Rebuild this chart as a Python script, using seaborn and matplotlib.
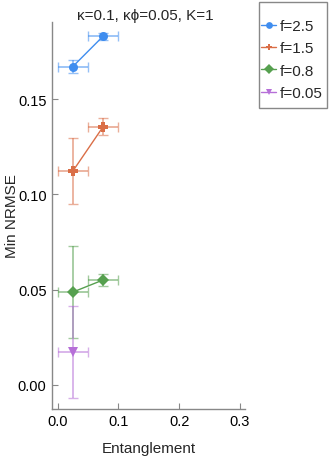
import numpy as np
import pandas as pd
import seaborn as sns
import matplotlib.pyplot as plt
from matplotlib.patches import Rectangle

# data
series = ["f=2.5", "f=1.5", "f=0.8", "f=0.05"]
ent_25 = [0.025, 0.075]
nrmse_25 = [0.1671, 0.1831]
yerr_25 = [0.0033, 0.0018]
ent_15 = [0.025, 0.075]
nrmse_15 = [0.1122, 0.1356]
yerr_15 = [0.0175, 0.0044]
ent_08 = [0.025, 0.075]
nrmse_08 = [0.0487, 0.0551]
yerr_08 = [0.0240, 0.0031]
ent_005 = [0.025]
nrmse_005 = [0.0173]
yerr_005 = [0.0240]
xerr = 0.025

colors = ["#3F8DEF", "#DA6E47", "#56A04F", "#B66FD8"]
markers = ["o", "P", "D", "v"]

df = pd.concat([
    pd.DataFrame({"Entanglement": e, "Min NRMSE": v, "err": er, "f": s})
    for e, v, er, s in zip([ent_25, ent_15, ent_08, ent_005],
                           [nrmse_25, nrmse_15, nrmse_08, nrmse_005],
                           [yerr_25, yerr_15, yerr_08, yerr_005], series)
], ignore_index=True)

sns.set_theme(style="ticks")
plt.rcParams["font.family"] = ["Liberation Sans", "DejaVu Sans"]

fig = plt.figure(figsize=(3.3, 4.6), dpi=100)
ax = fig.add_axes([0.158, 0.109, 0.584, 0.841])

palette = dict(zip(series, colors))
mk = dict(zip(series, markers))

# error bars, lighter
for s in series:
    d = df[df["f"] == s]
    ax.errorbar(d["Entanglement"], d["Min NRMSE"], yerr=d["err"], xerr=xerr,
                fmt="none", ecolor=palette[s], alpha=0.55, elinewidth=1.3,
                capsize=3.5, capthick=1.0, zorder=2)

sns.lineplot(data=df, x="Entanglement", y="Min NRMSE", hue="f", style="f",
             palette=palette, markers=mk, dashes=False, markersize=6.5,
             markeredgewidth=0, linewidth=1.0, sort=False, ax=ax, zorder=3)

ax.set_xlim(-0.009, 0.308)
ax.set_ylim(-0.0126, 0.1905)
ax.set_xticks([0.0, 0.1, 0.2, 0.3])
ax.set_xticklabels(["0.0", "0.1", "0.2", "0.3"])
ax.set_yticks([0.0, 0.05, 0.10, 0.15])
ax.set_yticklabels(["0.00", "0.05", "0.10", "0.15"])
ax.tick_params(direction="in", length=4, color="#888888", labelsize=10.5,
               labelcolor="black", width=0.8, pad=4)
for side in ["top", "right"]:
    ax.spines[side].set_visible(False)
for side in ["left", "bottom"]:
    ax.spines[side].set_color("#888888")
    ax.spines[side].set_linewidth(1.0)

ax.set_xlabel("Entanglement", fontsize=11)
ax.set_ylabel("Min NRMSE", fontsize=11)
ax.yaxis.set_label_coords(-0.17, 0.5)
ax.xaxis.set_label_coords(0.5, -0.084)
fig.text(145 / 330, 1 - 16 / 460, "κ=0.1, κϕ=0.05, K=1", fontsize=11,
         ha="center", va="center")

handles, labels = ax.get_legend_handles_labels()
ax.legend_.remove()
leg = fig.legend(handles, labels, loc="upper left", bbox_to_anchor=(261 / 330, 1 - 20 / 460),
                 fontsize=11, frameon=False, handlelength=1.0, handletextpad=0.2,
                 borderpad=0, labelspacing=0.55, borderaxespad=0, markerscale=0.75)
# legend frame as in the reference
fig.patches.append(Rectangle((259 / 330, 1 - 109 / 460), 68 / 330, 106 / 460,
                             transform=fig.transFigure, fill=False,
                             edgecolor="#888888", linewidth=1.0))

fig.savefig("out.png", dpi=100)
